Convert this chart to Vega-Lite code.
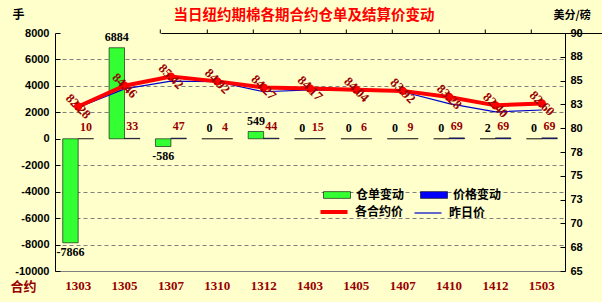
{
  "$schema": "https://vega.github.io/schema/vega-lite/v6.json",
  "width": 510,
  "height": 238,
  "autosize": "none",
  "padding": {"left": 55, "top": 33, "right": 37, "bottom": 31},
  "background": "#FFFFCC",
  "config": {
    "view": {"stroke": null},
    "font": "Liberation Sans",
    "axis": {"labelOverlap": false, "labelFlush": false}
  },
  "title": {
    "text": "当日纽约期棉各期合约仓单及结算价变动",
    "font": "Noto Sans CJK SC",
    "fontSize": 14.5,
    "fontWeight": "bold",
    "color": "#FF0000",
    "anchor": "middle",
    "dx": -6,
    "dy": 15,
    "offset": 0
  },
  "data": {
    "values": [
      {"c": "1303", "仓单变动": -7866, "价格变动": 10, "各合约价": 82.28, "昨日价": 82.18},
      {"c": "1305", "仓单变动": 6884, "价格变动": 33, "各合约价": 84.46, "昨日价": 84.13},
      {"c": "1307", "仓单变动": -586, "价格变动": 47, "各合约价": 85.42, "昨日价": 84.95},
      {"c": "1310", "仓单变动": 0, "价格变动": 4, "各合约价": 84.92, "昨日价": 84.88},
      {"c": "1312", "仓单变动": 549, "价格变动": 44, "各合约价": 84.27, "昨日价": 83.83},
      {"c": "1403", "仓单变动": 0, "价格变动": 15, "各合约价": 84.17, "昨日价": 84.02},
      {"c": "1405", "仓单变动": 0, "价格变动": 6, "各合约价": 84.04, "昨日价": 83.98},
      {"c": "1407", "仓单变动": 0, "价格变动": 9, "各合约价": 83.92, "昨日价": 83.83},
      {"c": "1410", "仓单变动": 0, "价格变动": 69, "各合约价": 83.28, "昨日价": 82.59},
      {"c": "1412", "仓单变动": 2, "价格变动": 69, "各合约价": 82.40, "昨日价": 81.71},
      {"c": "1503", "仓单变动": 0, "价格变动": 69, "各合约价": 82.60, "昨日价": 81.91}
    ]
  },
  "resolve": {"scale": {"y": "independent"}, "axis": {"x": "independent"}},
  "layer": [
    {
      "transform": [{"fold": ["仓单变动", "价格变动"], "as": ["k", "v"]}],
      "layer": [
        {
          "mark": {"type": "bar", "stroke": "#000000", "strokeWidth": 0.6},
          "encoding": {
            "x": {
              "field": "c", "type": "nominal", "sort": null,
              "scale": {"paddingInner": 0, "paddingOuter": 0},
              "axis": {
                "orient": "bottom", "title": "合约", "titleX": -32, "titleY": 15,
                "titleAlign": "center", "titleBaseline": "middle", "titleAngle": 0,
                "titleFont": "Noto Sans CJK SC", "titleFontSize": 13, "titleFontWeight": "bold", "titleColor": "#990000",
                "labelAngle": 0, "labelFont": "Liberation Serif", "labelFontSize": 13, "labelFontWeight": "bold",
                "labelColor": "#990000", "labelPadding": 8, "ticks": false,
                "domain": true, "domainColor": "#808080", "domainWidth": 1, "grid": false
              }
            },
            "xOffset": {"field": "k", "type": "nominal", "scale": {"domain": ["仓单变动", "价格变动"], "paddingOuter": 0.5, "paddingInner": 0}},
            "y": {
              "field": "v", "type": "quantitative",
              "scale": {"domain": [-10000, 8000], "nice": false, "zero": false},
              "axis": {
                "orient": "left", "values": [-10000, -8000, -6000, -4000, -2000, 0, 2000, 4000, 6000, 8000], "tickCount": 30,
                "labelExpr": "'' + datum.value", "labelOverlap": false, "labelFlush": false,
                "title": "手", "titleAngle": 0, "titleX": -43, "titleY": -19, "titleAlign": "left", "titleBaseline": "middle",
                "titleFont": "Noto Sans CJK SC", "titleFontSize": 12, "titleFontWeight": "bold", "titleColor": "#000000",
                "labelFont": "Liberation Sans", "labelFontSize": 11, "labelFontWeight": "bold", "labelColor": "#000000",
                "labelPadding": 11,
                "tickSize": -5, "tickColor": "#000000", "domainColor": "#000000", "domainWidth": 1,
                "grid": true, "gridDash": [4, 3], "gridWidth": 1, "gridOpacity": 1,
                "gridColor": {"condition": {"test": "datum.value === 8000 || datum.value === 0 || datum.value === -10000", "value": "transparent"}, "value": "#808080"}
              }
            },
            "fill": {
              "field": "k", "type": "nominal",
              "scale": {"domain": ["仓单变动", "价格变动"], "range": ["#33FF33", "#0000FF"]},
              "legend": {
                "orient": "none", "legendX": 268, "legendY": 148, "columns": 2, "title": null, "padding": 0,
                "symbolType": "M-1,-0.25H1V0.25H-1Z", "symbolSize": 729,
                "symbolStrokeColor": "#000000", "symbolStrokeWidth": 0.6,
                "labelFont": "Noto Sans CJK SC", "labelFontSize": 12, "labelFontWeight": "bold", "labelColor": "#000000",
                "labelOffset": 5, "columnPadding": 14
              }
            }
          }
        },
        {
          "transform": [{"filter": "datum.k === '仓单变动' && datum.v >= 0"}],
          "mark": {"type": "text", "baseline": "bottom", "dy": -4, "font": "Liberation Serif", "fontSize": 12, "fontWeight": "bold", "color": "#000000"},
          "encoding": {
            "x": {"field": "c", "type": "nominal", "sort": null},
            "xOffset": {"field": "k", "type": "nominal", "scale": {"domain": ["仓单变动", "价格变动"]}},
            "y": {"field": "v", "type": "quantitative", "scale": {"domain": [-10000, 8000], "nice": false, "zero": false}},
            "text": {"field": "v", "type": "nominal"}
          }
        },
        {
          "transform": [{"filter": "datum.k === '仓单变动' && datum.v < 0"}],
          "mark": {"type": "text", "baseline": "top", "dy": 4, "font": "Liberation Serif", "fontSize": 12, "fontWeight": "bold", "color": "#000000"},
          "encoding": {
            "x": {"field": "c", "type": "nominal", "sort": null},
            "xOffset": {"field": "k", "type": "nominal", "scale": {"domain": ["仓单变动", "价格变动"]}},
            "y": {"field": "v", "type": "quantitative", "scale": {"domain": [-10000, 8000], "nice": false, "zero": false}},
            "text": {"field": "v", "type": "nominal"}
          }
        },
        {
          "transform": [{"filter": "datum.k === '价格变动'"}],
          "mark": {"type": "text", "baseline": "bottom", "dy": -5, "font": "Liberation Serif", "fontSize": 12, "fontWeight": "bold", "color": "#990000"},
          "encoding": {
            "x": {"field": "c", "type": "nominal", "sort": null},
            "xOffset": {"field": "k", "type": "nominal", "scale": {"domain": ["仓单变动", "价格变动"]}},
            "y": {"field": "v", "type": "quantitative", "scale": {"domain": [-10000, 8000], "nice": false, "zero": false}},
            "text": {"field": "v", "type": "nominal"}
          }
        }
      ]
    },
    {
      "transform": [{"fold": ["各合约价", "昨日价"], "as": ["s", "p"]}],
      "layer": [
        {
          "transform": [{"filter": "datum.s === '昨日价'"}],
          "mark": {"type": "line", "strokeWidth": 1.2},
          "encoding": {
            "x": {
              "field": "c", "type": "nominal", "sort": null,
              "axis": {
                "orient": "top", "position": 105.8, "labels": false, "title": null, "grid": false,
                "domain": true, "domainColor": "#000000", "domainWidth": 1.2,
                "ticks": true, "tickSize": 4, "tickColor": "#000000", "bandPosition": 0
              }
            },
            "y": {
              "field": "p", "type": "quantitative",
              "scale": {"domain": [65, 90], "nice": false, "zero": false},
              "axis": {
                "orient": "right", "values": [65, 67.5, 70, 72.5, 75, 77.5, 80, 82.5, 85, 87.5, 90], "tickCount": 30, "format": ".0f",
                "labelOverlap": false, "labelFlush": false,
                "title": "美分/磅", "titleAngle": 0, "titleX": -12, "titleY": -18, "titleAlign": "left", "titleBaseline": "middle",
                "titleFont": "Noto Sans CJK SC", "titleFontSize": 11, "titleFontWeight": "bold", "titleColor": "#000000",
                "labelFont": "Liberation Sans", "labelFontSize": 11, "labelFontWeight": "bold", "labelColor": "#000000",
                "labelPadding": 10, "tickSize": -5, "tickColor": "#000000", "domainColor": "#000000", "domainWidth": 1, "grid": false
              }
            },
            "stroke": {
              "field": "s", "type": "nominal",
              "scale": {"domain": ["各合约价", "昨日价"], "range": ["#FF0000", "#0000CC"]},
              "legend": {
                "orient": "none", "legendX": 273, "legendY": 173, "columns": 2, "title": null, "padding": 0,
                "symbolType": "M-1,0H1", "symbolSize": 729, "symbolStrokeWidth": 2,
                "labelFont": "Noto Sans CJK SC", "labelFontSize": 12, "labelFontWeight": "bold", "labelColor": "#000000",
                "labelOffset": 15, "columnPadding": 8,
                "encode": {"symbols": {"update": {"strokeWidth": {"signal": "datum.value === '各合约价' ? 4 : 1.2"}}}}
              }
            }
          }
        },
        {
          "transform": [{"filter": "datum.s === '各合约价'"}],
          "mark": {"type": "line", "strokeWidth": 4, "point": {"filled": true, "size": 40, "color": "#FF0000"}},
          "encoding": {
            "x": {"field": "c", "type": "nominal", "sort": null},
            "y": {"field": "p", "type": "quantitative", "scale": {"domain": [65, 90], "nice": false, "zero": false}},
            "stroke": {"field": "s", "type": "nominal", "scale": {"domain": ["各合约价", "昨日价"], "range": ["#FF0000", "#0000CC"]}}
          }
        },
        {
          "transform": [{"filter": "datum.s === '各合约价'"}],
          "mark": {"type": "text", "angle": 45, "align": "center", "baseline": "middle", "font": "Liberation Serif", "fontSize": 13, "fontWeight": "bold", "color": "#990000"},
          "encoding": {
            "x": {"field": "c", "type": "nominal", "sort": null},
            "y": {"field": "p", "type": "quantitative", "scale": {"domain": [65, 90], "nice": false, "zero": false}},
            "text": {"field": "p", "type": "quantitative", "format": ".2f"}
          }
        }
      ]
    }
  ]
}
